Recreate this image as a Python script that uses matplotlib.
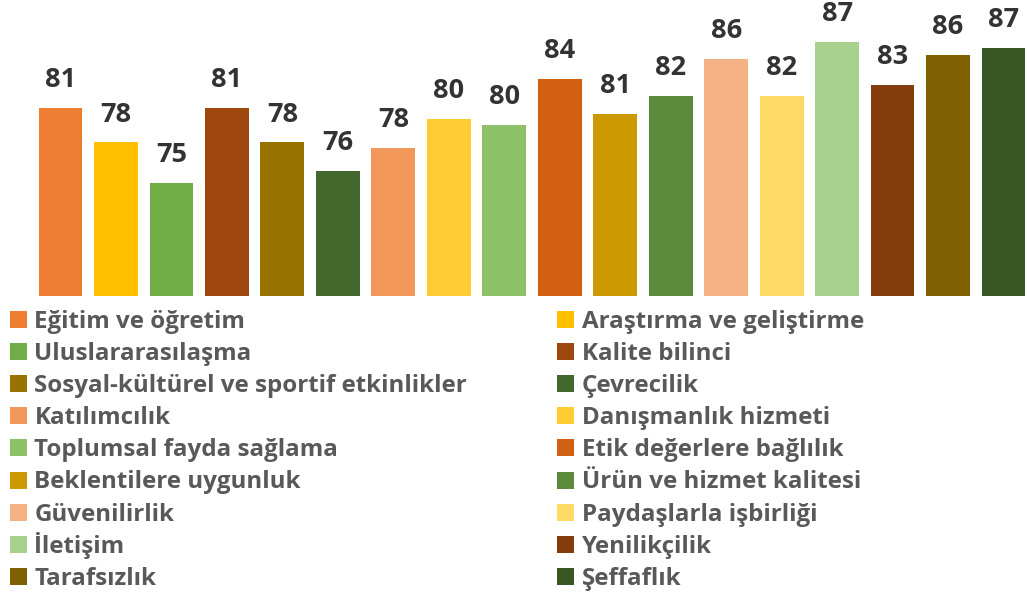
import matplotlib
matplotlib.use("Agg")
import matplotlib.pyplot as plt
from matplotlib.patches import Rectangle

categories = [
    "Eğitim ve öğretim", "Araştırma ve geliştirme", "Uluslararasılaşma", "Kalite bilinci",
    "Sosyal-kültürel ve sportif etkinlikler", "Çevrecilik", "Katılımcılık", "Danışmanlık hizmeti",
    "Toplumsal fayda sağlama", "Etik değerlere bağlılık", "Beklentilere uygunluk",
    "Ürün ve hizmet kalitesi", "Güvenilirlik", "Paydaşlarla işbirliği", "İletişim",
    "Yenilikçilik", "Tarafsızlık", "Şeffaflık",
]
values = [81.4, 78.4, 74.9, 81.4, 78.4, 75.9, 77.9, 80.4, 79.9,
          83.9, 80.9, 82.4, 85.6, 82.4, 87.1, 83.4, 86.0, 86.6]
colors = ["#ED7D31", "#FFC000", "#70AD47", "#9E480E", "#997300", "#43682B",
          "#F1975A", "#FFCD33", "#8CC168", "#D26012", "#CC9A00", "#5A8A3A",
          "#F4B183", "#FFD966", "#A9D18E", "#843C0C", "#7F6000", "#385723"]

W, H = 1027, 598
fig = plt.figure(figsize=(W / 100, H / 100), dpi=100)

step = 55.47
left_px = 60.5 - 0.5 * step
base_px = 296
px_per_unit = 11.55
ymin = 65.1
ax = fig.add_axes([left_px / W, (H - base_px) / H, (W - left_px) / W, base_px / H])
ax.set_xlim(-0.5, -0.5 + (W - left_px) / step)
ax.set_ylim(ymin, ymin + base_px / px_per_unit)
ax.axis("off")

x = list(range(len(values)))
bars = ax.bar(x, values, width=0.79, color=colors, bottom=0)
for xi, v in zip(x, values):
    ax.annotate(f"{v:.0f}", xy=(xi, v), xytext=(0, 15), textcoords="offset points",
                ha="center", va="baseline", fontsize=19.5, fontweight="bold",
                color="#333333", family="Open Sans", annotation_clip=False)

# legend, row-wise in two columns
row0 = 327.7
row_step = 32.16
col_marker = [10, 557]
col_text = [34.5, 582]
for i, (name, c) in enumerate(zip(categories, colors)):
    r, col = divmod(i, 2)
    base = row0 + r * row_step
    sq = 17
    fig.add_artist(Rectangle((col_marker[col] / W, (H - base) / H), sq / W, sq / H,
                             transform=fig.transFigure, facecolor=c, edgecolor="none"))
    fig.text(col_text[col] / W, (H - base) / H, name, ha="left", va="baseline",
             fontsize=17.4, fontweight="bold", color="#595959", family="Open Sans")

fig.savefig("out.png", dpi=100)
